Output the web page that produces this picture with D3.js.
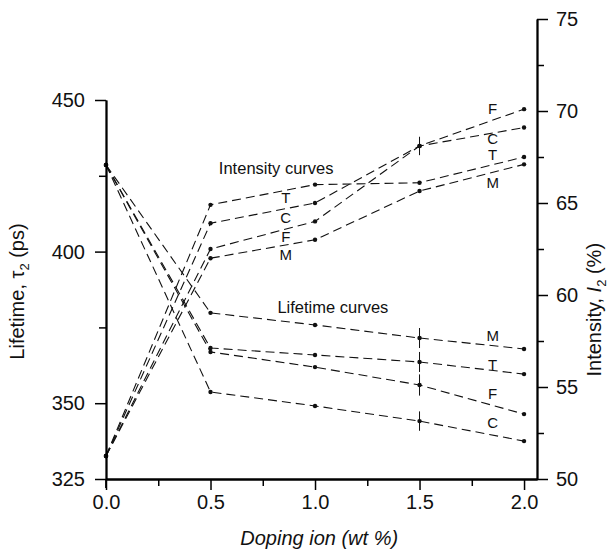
<!DOCTYPE html>
<html>
<head>
<meta charset="utf-8">
<script src="https://cdn.jsdelivr.net/npm/d3@7"></script>
<style>
  body { margin: 0; background: #fff; }
  svg { font-family: 'Liberation Sans', Arial, sans-serif; }
</style>
</head>
<body>
<div class="chart"></div>
<script>
// doping levels (wt %)
const doping = [0, 0.5, 1.0, 1.5, 2.0];

// lifetime tau2 (ps), left axis
const lifetimeM = [428.6, 379.8, 375.8, 371.5, 367.9];
const lifetimeT = [428.6, 368.2, 365.9, 363.6, 359.6];
const lifetimeF = [428.6, 366.9, 361.9, 356.0, 346.4];
const lifetimeC = [428.6, 353.7, 349.1, 344.1, 337.5];
// error half-width at 1.5 wt % (ps)
const lifetimeErr = [3.3, 3.3, 3.5, 3.2];

// intensity I2 (%), right axis
const intensityT = [51.25, 64.9, 66.0, 66.1, 67.5];
const intensityC = [51.25, 63.9, 65.0, 68.1, 69.1];
const intensityF = [51.25, 62.5, 64.0, 68.1, 70.1];
const intensityM = [51.25, 62.0, 63.0, 65.65, 67.1];

const ionNames = ['M', 'T', 'F', 'C'];

const xTicks = [0, 0.5, 1.0, 1.5, 2.0];
const xMinorTicks = [0.25, 0.75, 1.25, 1.75];
const leftTicks = [325, 350, 400, 450];
const leftMinorTicks = [375, 425];
const rightTicks = [50, 55, 60, 65, 70, 75];
const rightMinorTicks = [52.5, 57.5, 62.5, 67.5, 72.5];

function drawChart() {
  const dimensions = {
    width: 610,
    height: 551,
  };

  const svg = d3
    .select('.chart')
    .append('svg')
    .attr('width', dimensions.width)
    .attr('height', dimensions.height);

  const xScale = d3.scaleLinear().domain([0, 2.062]).range([106, 537]);
  const yLeft = d3.scaleLinear().domain([325, 450]).range([479, 100]);
  const yRight = d3.scaleLinear().domain([50, 75]).range([479, 19]);

  const lifetimeSeries = [lifetimeM, lifetimeT, lifetimeF, lifetimeC];
  const intensitySeries = [intensityT, intensityC, intensityF, intensityM];

  function drawSeries(values, yScale) {
    const pts = doping.map((d, i) => [d, values[i]]);
    const line = d3
      .line()
      .x((d) => xScale(d[0]))
      .y((d) => yScale(d[1]));
    svg
      .append('path')
      .attr('d', line(pts))
      .attr('fill', 'none')
      .attr('stroke', '#111')
      .attr('stroke-width', 1.1)
      .attr('stroke-dasharray', '9,5');
    svg
      .append('g')
      .selectAll('circle')
      .data(pts)
      .join('circle')
      .attr('cx', (d) => xScale(d[0]))
      .attr('cy', (d) => yScale(d[1]))
      .attr('r', 2.2)
      .attr('fill', '#111');
  }

  lifetimeSeries.forEach((s) => drawSeries(s, yLeft));
  intensitySeries.forEach((s) => drawSeries(s, yRight));

  // error bars at 1.5 wt %
  lifetimeSeries.forEach((s, i) => {
    svg
      .append('line')
      .attr('x1', xScale(doping[3]))
      .attr('x2', xScale(doping[3]))
      .attr('y1', yLeft(s[3] - lifetimeErr[i]))
      .attr('y2', yLeft(s[3] + lifetimeErr[i]))
      .attr('stroke', '#111')
      .attr('stroke-width', 1);
  });
  svg
    .append('line')
    .attr('x1', xScale(doping[3]))
    .attr('x2', xScale(doping[3]))
    .attr('y1', yRight(intensityF[3] - 0.5))
    .attr('y2', yRight(intensityF[3] + 0.5))
    .attr('stroke', '#111')
    .attr('stroke-width', 1);

  // axes
  const xAxis = svg
    .append('g')
    .attr('transform', `translate(0, ${yLeft(325)})`)
    .call(
      d3.axisBottom(xScale).tickValues(xTicks).tickFormat(d3.format('.1f')).tickSize(11).tickSizeOuter(0)
    );
  svg
    .append('g')
    .attr('transform', `translate(0, ${yLeft(325)})`)
    .call(d3.axisBottom(xScale).tickValues(xMinorTicks).tickFormat('').tickSize(7).tickSizeOuter(0));

  const leftAxis = svg
    .append('g')
    .attr('transform', `translate(${xScale(0)}, 0)`)
    .call(d3.axisLeft(yLeft).tickValues(leftTicks).tickSize(11).tickSizeOuter(0));
  svg
    .append('g')
    .attr('transform', `translate(${xScale(0)}, 0)`)
    .call(d3.axisLeft(yLeft).tickValues(leftMinorTicks).tickFormat('').tickSize(7).tickSizeOuter(0));

  const rightAxis = svg
    .append('g')
    .attr('transform', `translate(${xScale.range()[1]}, 0)`)
    .call(d3.axisRight(yRight).tickValues(rightTicks).tickSize(11).tickSizeOuter(0));
  svg
    .append('g')
    .attr('transform', `translate(${xScale.range()[1]}, 0)`)
    .call(d3.axisRight(yRight).tickValues(rightMinorTicks).tickFormat('').tickSize(7).tickSizeOuter(0));

  // extend left axis a bit below the x axis
  svg
    .append('line')
    .attr('x1', xScale(0))
    .attr('x2', xScale(0))
    .attr('y1', yLeft(325))
    .attr('y2', yLeft(325) + 9)
    .attr('stroke', '#000')
    .attr('stroke-width', 1.8);

  svg.selectAll('.domain').attr('stroke', '#000').attr('stroke-width', 1.8);
  svg.selectAll('.tick line').attr('stroke', '#000').attr('stroke-width', 1.5);
  svg
    .selectAll('.tick text')
    .attr('fill', '#111')
    .style('font-size', '20px')
    .style('font-family', "'Liberation Sans', Arial, sans-serif");
  xAxis.selectAll('.tick text').attr('dy', '0.8em');
  leftAxis.selectAll('.tick text').attr('x', -21);
  rightAxis.selectAll('.tick text').attr('x', 19);

  // axis titles
  const leftTitle = svg
    .append('text')
    .attr('transform', `translate(24, ${(yLeft(325) + yLeft(450)) / 2 + 2}) rotate(-90)`)
    .attr('text-anchor', 'middle')
    .attr('fill', '#111')
    .style('font-size', '20px');
  leftTitle.append('tspan').text('Lifetime, \u03c4');
  leftTitle.append('tspan').attr('dy', 5).style('font-size', '13px').text('2');
  leftTitle.append('tspan').attr('dy', -5).text(' (ps)');

  const rightTitle = svg
    .append('text')
    .attr('transform', `translate(601, ${yRight(59.2)}) rotate(-90)`)
    .attr('text-anchor', 'middle')
    .attr('fill', '#111')
    .style('font-size', '20px');
  rightTitle.append('tspan').text('Intensity, ');
  rightTitle.append('tspan').style('font-style', 'italic').text('I');
  rightTitle.append('tspan').attr('dy', 5).style('font-size', '13px').text('2');
  rightTitle.append('tspan').attr('dy', -5).text(' (%)');

  svg
    .append('text')
    .attr('x', xScale(1.02))
    .attr('y', 545)
    .attr('text-anchor', 'middle')
    .attr('fill', '#111')
    .style('font-size', '20px')
    .style('font-style', 'italic')
    .text('Doping ion (wt %)');

  // curve group captions
  svg
    .append('text')
    .attr('x', xScale(0.54))
    .attr('y', yRight(66.9))
    .attr('dy', '0.35em')
    .attr('fill', '#111')
    .style('font-size', '16.5px')
    .text('Intensity curves');
  svg
    .append('text')
    .attr('x', xScale(0.82))
    .attr('y', yLeft(381.7))
    .attr('dy', '0.35em')
    .attr('fill', '#111')
    .style('font-size', '16.5px')
    .text('Lifetime curves');

  // series letters
  const intensityMidLabels = [65.3, 64.2, 63.15, 62.2];
  const intensityEndLabels = [67.6, 68.5, 70.1, 66.1];
  const lifetimeEndLabels = [372.2, 362.6, 353.0, 343.5];
  const midOrder = ['T', 'C', 'F', 'M'];

  function drawLetters(names, xVal, values, yScale) {
    svg
      .append('g')
      .selectAll('text')
      .data(names)
      .join('text')
      .attr('x', xScale(xVal))
      .attr('y', (d, i) => yScale(values[i]))
      .attr('dy', '0.35em')
      .attr('text-anchor', 'middle')
      .attr('fill', '#111')
      .style('font-size', '15px')
      .text((d) => d);
  }

  drawLetters(midOrder, 0.86, intensityMidLabels, yRight);
  drawLetters(midOrder, 1.85, intensityEndLabels, yRight);
  drawLetters(ionNames, 1.85, lifetimeEndLabels, yLeft);
}

drawChart();
</script>
</body>
</html>
